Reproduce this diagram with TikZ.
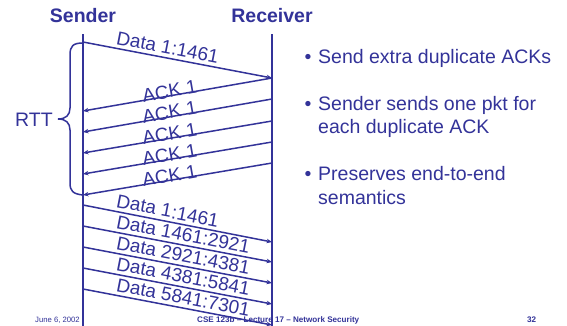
\documentclass[tikz,border=0pt]{standalone}
\usepackage{fontspec}
\setmainfont{Liberation Sans}
\usetikzlibrary{arrows.meta}
\definecolor{slideblue}{RGB}{51,51,153}
\begin{document}
\begin{tikzpicture}[x=1pt,y=1pt,
  every node/.style={text=slideblue, inner sep=0pt},
  lifeline/.style={draw=slideblue, line width=2pt},
  msg/.style={draw=slideblue, line width=1.5pt, -{Stealth[length=5.5pt,width=4.5pt]}},
  bracepath/.style={draw=slideblue, line width=1.5pt},
  head/.style={font=\fontsize{19.5}{23}\bfseries, anchor=base},
  msglabel/.style={font=\fontsize{19}{22}\selectfont, anchor=base west},
  datalabel/.style={msglabel, rotate=-11},
  acklabel/.style={msglabel, rotate=9.9},
  bigtext/.style={font=\fontsize{19.5}{23}\selectfont, anchor=base west},
  bulletmark/.style={font=\fontsize{19.5}{23}\selectfont, anchor=base},
  foot/.style={font=\fontsize{7.7}{9}\selectfont, anchor=base west},
  footbold/.style={font=\fontsize{8.1}{9}\bfseries, anchor=base west}]
% y values are measured downward from the top edge, hence the minus signs
\fill[white] (0,0) rectangle (567,-325);
\clip (0,0) rectangle (567,-325);

% footer
\node[foot] (date) at (35,-322) {June 6, 2002};
\node[footbold] (course) at (197,-322) {CSE 123b – Lecture 17 – Network Security};
\node[footbold] (page) at (527,-322) {32};

% headings
\node[head] (sender) at (83,-22) {Sender};
\node[head] (receiver) at (272,-22) {Receiver};

% lifelines
\coordinate (stop) at (83,-34);
\coordinate (sbot) at (83,-326);
\coordinate (rtop) at (272,-34);
\coordinate (rbot) at (272,-326);
\draw[lifeline] (stop) -- (sbot);
\draw[lifeline] (rtop) -- (rbot);

% first segment
\coordinate (d0s) at (83,-42);
\coordinate (d0r) at (272,-78);
\draw[msg] (d0s) -- (d0r) node[datalabel, pos=0.165, yshift=4pt] {Data 1:1461};

% duplicate acknowledgements
\foreach \i/\ry/\sy in {1/78/111, 2/99/132, 3/121/153, 4/142/174, 5/163/195} {
  \coordinate (a\i r) at (272,-\ry);
  \coordinate (a\i s) at (83,-\sy);
  \draw[msg] (a\i r) -- (a\i s) node[acklabel, pos=0.685, yshift=-2pt] {ACK 1};
}

% retransmitted segments
\foreach \i/\sy/\ry/\txt in {1/205/242/{Data 1:1461}, 2/226/262/{Data 1461:2921},
    3/247/283/{Data 2921:4381}, 4/268/304/{Data 4381:5841}, 5/289/325/{Data 5841:7301}} {
  \coordinate (b\i s) at (83,-\sy);
  \coordinate (b\i r) at (272,-\ry);
  \draw[msg] (b\i s) -- (b\i r) node[datalabel, pos=0.165, yshift=4pt] {\txt};
}

% round-trip brace
\draw[bracepath] (83,-43) .. controls (73,-43) and (70,-46) .. (70,-55)
  -- (70,-108) .. controls (70,-115) and (66,-119) .. (58,-119)
  .. controls (66,-119) and (70,-123) .. (70,-130)
  -- (70,-183) .. controls (70,-191) and (73,-194) .. (83,-195);
\node[font=\fontsize{19.5}{23}\selectfont, anchor=east] (rtt) at (53,-120) {RTT};

% bullet list
\node[bulletmark] (m1) at (308,-63) {•};
\node[bigtext] (t1) at (318,-63) {Send extra duplicate ACKs};
\node[bulletmark] (m2) at (308,-110) {•};
\node[bigtext] (t2) at (318,-110) {Sender sends one pkt for};
\node[bigtext] (t2b) at (318,-133) {each duplicate ACK};
\node[bulletmark] (m3) at (308,-180) {•};
\node[bigtext] (t3) at (318,-180) {Preserves end-to-end};
\node[bigtext] (t3b) at (318,-204) {semantics};
\end{tikzpicture}
\end{document}
